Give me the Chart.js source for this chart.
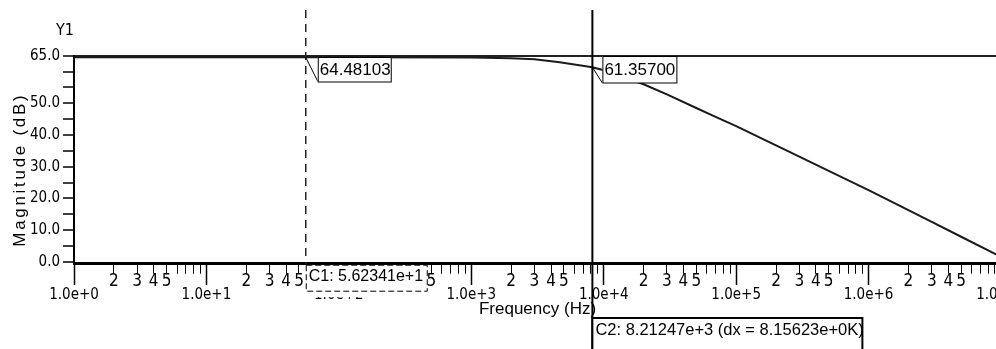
<!DOCTYPE html>
<html>
<head>
<meta charset="utf-8">
<script src="https://cdn.jsdelivr.net/npm/chart.js@4"></script>
<style>
  html, body { margin: 0; padding: 0; background: #fff; overflow: hidden; }
  #wrap { width: 996px; height: 349px; overflow: hidden; position: relative; }
  canvas { display: block; }
</style>
</head>
<body>
<div id="wrap"><canvas id="c" width="1030" height="349"></canvas></div>
<script>
// ---- data ----
const freqHz = [1, 10, 100, 1000, 2000, 3000, 4650, 6000, 8212.47, 10000, 20000, 30000, 50000, 70000, 100000, 200000, 300000, 500000, 1000000, 2000000, 3000000, 5000000, 9100000, 10000000];
const magDb  = [64.48, 64.48, 64.48, 64.42, 64.2, 63.9, 62.9, 62.2, 61.357, 60.4, 56.0, 52.8, 48.5, 45.7, 42.8, 36.7, 33.2, 28.7, 22.6, 16.3, 12.6, 7.9, 2.4, 1.5];

const decadeTicks = [1, 10, 100, 1000, 10000, 100000, 1000000, 10000000];
const minorMultipliers = [2, 3, 4, 5, 6, 7, 8, 9];
const labeledMultipliers = [2, 3, 4, 5];
const yTickValues = [0, 5, 10, 15, 20, 25, 30, 35, 40, 45, 50, 55, 60, 65];
const yLabeledValues = [0, 10, 20, 30, 40, 50, 65];

const cursor1 = { hz: 56.2341, db: 64.48103, value: '64.48103', label: 'C1: 5.62341e+1' };
const cursor2 = { hz: 8212.47, db: 61.35700, value: '61.35700', label: 'C2: 8.21247e+3 (dx = 8.15623e+0K)' };
const yName = 'Y1';

// ---- helpers ----
const NARROW = "'Liberation Sans Narrow', 'Arial Narrow', 'DejaVu Sans Condensed', sans-serif";
const SANS = "'Liberation Sans', Arial, sans-serif";
function mantissa(v) {
  const e = Math.floor(Math.log10(v) + 1e-9);
  return Math.round(v / Math.pow(10, e));
}
function exponent(v) { return Math.round(Math.log10(v)); }

const allXTicks = [];
decadeTicks.forEach((d, i) => {
  allXTicks.push(d);
  if (i < decadeTicks.length - 1) minorMultipliers.forEach(m => allXTicks.push(m * d));
});

// spaced-out y axis title (as in the reference)
const titleSpacingPlugin = {
  id: 'titleSpacing',
  beforeDraw(chart) {
    const s = chart.scales.y;
    if (s && !s._spacedTitle) {
      const orig = s.drawTitle;
      s.drawTitle = function () {
        const c = this.ctx;
        c.save();
        c.translate(0, 10);
        c.letterSpacing = '2.7px';
        orig.call(this);
        c.restore();
      };
      s._spacedTitle = true;
    }
  }
};

const cursorPlugin = {
  id: 'cursors',
  afterDraw(chart) {
    const ctx = chart.ctx;
    const xs = chart.scales.x, ys = chart.scales.y;
    const ca = chart.chartArea;
    const x1 = xs.getPixelForValue(cursor1.hz);
    const x2 = xs.getPixelForValue(cursor2.hz);
    const y1 = ys.getPixelForValue(cursor1.db);
    const y2 = ys.getPixelForValue(cursor2.db);
    ctx.save();
    // Y1 name
    ctx.fillStyle = '#000';
    ctx.font = '16px ' + NARROW;
    ctx.textAlign = 'center';
    ctx.textBaseline = 'middle';
    ctx.fillText(yName, 65, 31);

    // C1 dashed line
    ctx.strokeStyle = '#222';
    ctx.lineWidth = 1.5;
    ctx.setLineDash([8, 6]);
    ctx.beginPath();
    ctx.moveTo(x1, 10);
    ctx.lineTo(x1, ca.bottom);
    ctx.stroke();
    ctx.setLineDash([]);

    // C2 solid line
    ctx.strokeStyle = '#000';
    ctx.lineWidth = 2;
    ctx.beginPath();
    ctx.moveTo(x2, 10);
    ctx.lineTo(x2, chart.height + 5);
    ctx.stroke();

    // value label C1
    ctx.lineWidth = 1;
    ctx.strokeStyle = '#000';
    ctx.beginPath();
    ctx.moveTo(x1, y1);
    ctx.lineTo(x1 + 12, y1 + 24);
    ctx.stroke();
    ctx.fillStyle = '#fff';
    ctx.fillRect(x1 + 12, 57.5, 74, 24.5);
    ctx.strokeRect(x1 + 12.5, 57.5, 73, 24.5);
    ctx.fillStyle = '#000';
    ctx.font = '17px ' + SANS;
    ctx.textAlign = 'left';
    ctx.textBaseline = 'middle';
    ctx.fillText(cursor1.value, x1 + 14, 70);

    // value label C2
    ctx.beginPath();
    ctx.moveTo(x2, y2);
    ctx.lineTo(x2 + 10, 83);
    ctx.stroke();
    ctx.fillStyle = '#fff';
    ctx.fillRect(x2 + 10, 56, 74, 27);
    ctx.strokeRect(x2 + 10.5, 56.5, 74, 26.5);
    ctx.fillStyle = '#000';
    ctx.fillText(cursor2.value, x2 + 12, 70);

    // C1 cursor box (dashed)
    ctx.fillStyle = '#fff';
    ctx.fillRect(x1, ca.bottom + 1.5, 122, 32);
    ctx.setLineDash([6, 3]);
    ctx.strokeStyle = '#000';
    ctx.strokeRect(x1 + 0.5, ca.bottom + 1.5, 121, 26);
    ctx.setLineDash([]);
    ctx.fillStyle = '#000';
    ctx.font = '16px ' + SANS;
    ctx.fillText(cursor1.label, x1 + 3, ca.bottom + 13);

    // C2 cursor box (solid)
    ctx.fillStyle = '#fff';
    ctx.fillRect(x2, 318, 270, 40);
    ctx.lineWidth = 2;
    ctx.strokeRect(x2, 318, 270, 40);
    ctx.fillStyle = '#000';
    ctx.font = '16.5px ' + SANS;
    ctx.fillText(cursor2.label, x2 + 3, 330.5);
    ctx.restore();
  }
};

new Chart(document.getElementById('c'), {
  type: 'line',
  data: {
    datasets: [{
      data: freqHz.map((f, i) => ({ x: f, y: magDb[i] })),
      borderColor: '#1a1a1a',
      borderWidth: 2,
      pointRadius: 0,
      tension: 0,
      fill: false,
      xAxisID: 'x',
      yAxisID: 'y'
    }]
  },
  options: {
    responsive: false,
    devicePixelRatio: 1,
    animation: false,
    events: [],
    layout: { padding: { top: 55.7, left: 0, right: 29, bottom: 0 } },
    plugins: { legend: { display: false }, tooltip: { enabled: false }, title: { display: false } },
    scales: {
      x: {
        type: 'logarithmic',
        position: 'bottom',
        min: 1, max: 10000000,
        afterBuildTicks: s => { s.ticks = allXTicks.map(v => ({ value: v })); },
        afterFit: s => { s.height = 349 - 263.7; },
        grid: { display: true, drawOnChartArea: false, drawTicks: true, tickLength: 10, tickColor: '#000', tickWidth: 1 },
        border: { display: true, color: '#000', width: 3 },
        ticks: {
          autoSkip: false, maxRotation: 0, minRotation: 0, padding: -1,
          color: '#000',
          font: { family: NARROW, size: 17, lineHeight: 1 },
          callback: v => labeledMultipliers.includes(mantissa(v)) ? String(mantissa(v)) : ''
        },
        title: {
          display: true, text: 'Frequency (Hz)', color: '#000',
          font: { family: SANS, size: 17, lineHeight: 1.2 },
          padding: { top: 0, bottom: 29 }
        }
      },
      x2: {
        type: 'logarithmic',
        axis: 'x',
        position: { y: -0.6 },
        min: 1, max: 10000000,
        afterBuildTicks: s => { s.ticks = decadeTicks.map(v => ({ value: v })); },
        grid: { display: true, drawOnChartArea: false, drawTicks: true, tickLength: 21, tickColor: '#000', tickWidth: 1.5 },
        border: { display: false },
        ticks: {
          autoSkip: false, maxRotation: 0, minRotation: 0, padding: 3,
          color: '#000',
          font: { family: NARROW, size: 15, lineHeight: 1 },
          callback: v => '1.0e+' + exponent(v)
        }
      },
      y: {
        type: 'linear',
        position: 'left',
        min: -0.6, max: 65,
        afterBuildTicks: s => { s.ticks = yTickValues.map(v => ({ value: v })); },
        afterFit: s => { s.width = 74; },
        grid: {
          display: true, drawOnChartArea: true, drawTicks: true, tickLength: 11,
          color: c => (c.tick && c.tick.value === 65) ? '#222' : 'rgba(0,0,0,0)',
          lineWidth: 2, tickColor: '#000', tickWidth: 1.5
        },
        border: { display: true, color: '#000', width: 2 },
        ticks: {
          autoSkip: false, padding: 3, color: '#000',
          font: { family: NARROW, size: 15, lineHeight: 1 },
          callback: v => yLabeledValues.includes(v) ? v.toFixed(1) : ''
        },
        title: {
          display: true, text: 'Magnitude (dB)', color: '#000',
          font: { family: SANS, size: 17, lineHeight: 1.2 },
          padding: { top: 10, bottom: 0 }
        }
      }
    }
  },
  plugins: [titleSpacingPlugin, cursorPlugin]
});
</script>
</body>
</html>
